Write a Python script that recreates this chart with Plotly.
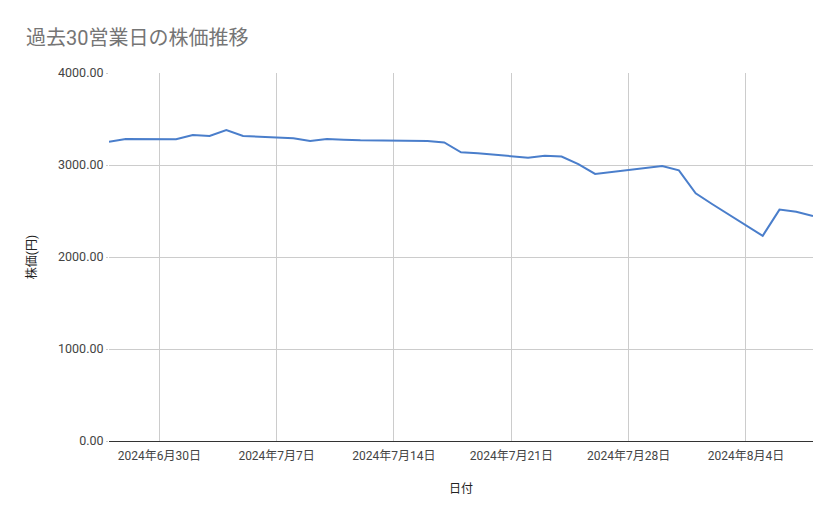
import plotly.graph_objects as go

dates = ["2024-06-27", "2024-06-28",
         "2024-07-01", "2024-07-02", "2024-07-03", "2024-07-04", "2024-07-05",
         "2024-07-08", "2024-07-09", "2024-07-10", "2024-07-11", "2024-07-12",
         "2024-07-16", "2024-07-17", "2024-07-18", "2024-07-19",
         "2024-07-22", "2024-07-23", "2024-07-24", "2024-07-25", "2024-07-26",
         "2024-07-29", "2024-07-30", "2024-07-31", "2024-08-01", "2024-08-02",
         "2024-08-05", "2024-08-06", "2024-08-07", "2024-08-08"]
prices = [3253, 3283,
          3279, 3326, 3315, 3380, 3315,
          3290, 3260, 3283, 3275, 3268,
          3262, 3245, 3138, 3127,
          3080, 3101, 3092, 3010, 2903,
          2964, 2989, 2942, 2692, 2573,
          2230, 2515, 2492, 2446]

x_tickvals = ["2024-06-30", "2024-07-07", "2024-07-14", "2024-07-21", "2024-07-28", "2024-08-04"]
x_ticktext = ["2024年6月30日", "2024年7月7日", "2024年7月14日", "2024年7月21日", "2024年7月28日", "2024年8月4日"]
y_tickvals = [0, 1000, 2000, 3000, 4000]

FONT = "Roboto, 'Noto Sans CJK JP', sans-serif"

W, H = 823, 503

fig = go.Figure()
fig.add_trace(go.Scatter(
    x=dates, y=prices, mode="lines",
    line=dict(color="#4a7ecb", width=2),
    showlegend=False,
))

fig.update_layout(
    width=W, height=H,
    margin=dict(l=101, r=18, t=65, b=70),
    paper_bgcolor="white", plot_bgcolor="white",
    font=dict(family=FONT, color="#444444", size=12),
    title=dict(text="過去30営業日の株価推移", x=18 / W, xanchor="left",
               y=1 - 29.5 / H, yanchor="middle",
               font=dict(family=FONT, size=20, color="#757575")),
)
fig.update_xaxes(
    type="date", range=["2024-06-27", "2024-08-08"],
    tickvals=x_tickvals, ticktext=x_ticktext,
    showgrid=True, gridcolor="#cccccc", gridwidth=1,
    showline=True, linecolor="#333333", linewidth=1,
    ticks="", ticklabelstandoff=4,
    tickfont=dict(size=12, color="#444444"),
    title=dict(text="日付", font=dict(size=12, color="#222222"), standoff=22),
    zeroline=False,
)
fig.update_yaxes(
    range=[0, 4000], tickvals=y_tickvals, tickformat=".2f",
    showgrid=True, gridcolor="#cccccc", gridwidth=1,
    ticks="outside", ticklen=2, tickcolor="#cccccc",
    tickfont=dict(size=12.5, color="#444444"),
    title=dict(text="株価(円)", font=dict(size=12, color="#222222"), standoff=18),
    zeroline=False,
)

fig.write_html("out.html")
